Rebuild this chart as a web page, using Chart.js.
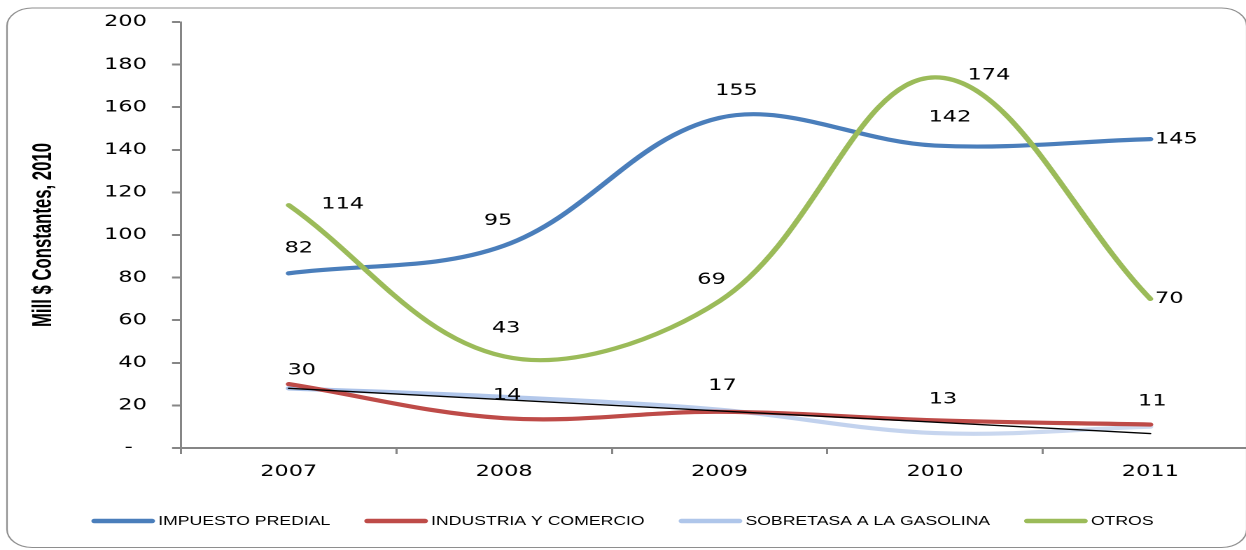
<!DOCTYPE html>
<html><head><meta charset="utf-8">
<script src="https://cdn.jsdelivr.net/npm/chart.js@4/dist/chart.umd.min.js"></script>
<style>
html,body{margin:0;padding:0;background:#fff;overflow:hidden;width:1246px;height:550px;}
#wrap{position:absolute;left:0;top:0;width:910px;height:550px;transform:scaleX(1.4);transform-origin:0 0;}
canvas{display:block;}
</style></head><body>
<div id="wrap"><canvas id="c" width="910" height="550"></canvas></div>
<script>
const years = ['2007','2008','2009','2010','2011'];
const impuestoPredial = [82, 95, 155, 142, 145];
const industriaComercio = [30, 14, 17, 13, 11];
const sobretasaGasolina = [28, 24, 18, 7, 10];
const otros = [114, 43, 69, 174, 70];
const yMin = 0, yMax = 200, yStep = 20;
const yTitle = 'Mill $ Constantes, 2010';
const seriesNames = ['IMPUESTO PREDIAL', 'INDUSTRIA Y COMERCIO', 'SOBRETASA A LA GASOLINA', 'OTROS'];

const SX = 1.4; // horizontal stretch of the page
const TICK_FONT = '"DejaVu Sans", Verdana, sans-serif';
const TITLE_FONT = '"Liberation Sans", Arial, sans-serif';
const LEGEND_FONT = '"Liberation Sans", Arial, sans-serif';

// linear trendline of the gasoline series (least squares)
function linearTrend(vals) {
  const n = vals.length; let sx = 0, sy = 0, sxy = 0, sxx = 0;
  vals.forEach((v, i) => { sx += i; sy += v; sxy += i * v; sxx += i * i; });
  const b = (n * sxy - sx * sy) / (n * sxx - sx * sx);
  const a = (sy - b * sx) / n;
  return vals.map((v, i) => a + b * i);
}

// label offsets (final px, text center relative to point)
const labelOffsets = {
  predial: [[10,-25],[-6,-25],[17,-27],[15,-28],[26,0]],
  industria: [[13,-14],[3,-23],[3,-26],[8,-21],[2,-23]],
  otros: [[54,-1],[2,-28],[-8,-21],[54,-2],[19,0]]
};

function sobretasaColor(ctx) {
  const a = ctx.chart.chartArea;
  if (!a) return '#BCD0EE';
  const g = ctx.chart.ctx.createLinearGradient(a.left, 0, a.right, 0);
  g.addColorStop(0, '#A3BDE8');
  g.addColorStop(1, '#D6E0F2');
  return g;
}

const frame = {
  id: 'frame',
  beforeDraw(chart) {
    const c = chart.ctx;
    c.save();
    c.fillStyle = '#fff';
    c.fillRect(0, 0, chart.width, chart.height);
    c.beginPath();
    c.roundRect(5, 8, 885.5, 539.5, 18);
    c.strokeStyle = '#8E8E8E';
    c.lineWidth = 1.1;
    c.stroke();
    c.restore();
  }
};

// rotated axis title, condensed along its length
const axisTitle = {
  id: 'axisTitle',
  afterDraw(chart) {
    const c = chart.ctx;
    const a = chart.chartArea;
    c.save();
    c.font = 'bold 19px ' + TITLE_FONT;
    const w = c.measureText(yTitle).width;
    const k = 184 / w;
    c.translate(31.5, (a.top + a.bottom) / 2);
    c.rotate(-Math.PI / 2);
    c.scale(k, 1);
    c.fillStyle = '#000';
    c.textAlign = 'center';
    c.textBaseline = 'middle';
    c.fillText(yTitle, 0, 0);
    c.restore();
  }
};

const valueLabels = {
  id: 'valueLabels',
  afterDatasetsDraw(chart) {
    const c = chart.ctx;
    c.save();
    c.font = '16px ' + TICK_FONT;
    c.fillStyle = '#000';
    c.textAlign = 'center';
    c.textBaseline = 'middle';
    chart.data.datasets.forEach((ds, di) => {
      if (!ds.labelKey) return;
      const meta = chart.getDatasetMeta(di);
      const offs = labelOffsets[ds.labelKey];
      meta.data.forEach((pt, i) => {
        const o = offs[i];
        c.fillText(String(ds.data[i]), pt.x + o[0] / SX, pt.y + o[1]);
      });
    });
    c.restore();
  }
};

const customLegend = {
  id: 'customLegend',
  afterDraw(chart) {
    const c = chart.ctx;
    c.save();
    c.font = '12.6px ' + LEGEND_FONT;
    c.fillStyle = '#000';
    c.textBaseline = 'middle';
    c.textAlign = 'left';
    const y = 521;
    let x = 66;
    const items = chart.data.datasets.filter(d => d.legendIndex !== undefined)
      .sort((a, b) => a.legendIndex - b.legendIndex);
    items.forEach((ds) => {
      c.beginPath();
      c.lineCap = 'round';
      c.lineWidth = 4.5;
      c.strokeStyle = ds.legendColor;
      c.moveTo(x + 1.5, y);
      c.lineTo(x + 42.5, y);
      c.stroke();
      x += 47;
      c.fillText(ds.label, x, y + 0.5);
      x += c.measureText(ds.label).width + 25;
    });
    c.restore();
  }
};

const trend = linearTrend(sobretasaGasolina);

new Chart(document.getElementById('c'), {
  type: 'line',
  data: {
    labels: years,
    datasets: [
      { label: 'trend', data: trend, borderColor: '#000', borderWidth: 1.4, tension: 0, order: 0 },
      { label: seriesNames[3], data: otros, borderColor: '#9BBB59', legendColor: '#9BBB59', borderWidth: 4.2, order: 1, labelKey: 'otros', legendIndex: 3 },
      { label: seriesNames[0], data: impuestoPredial, borderColor: '#4A7EBB', legendColor: '#4A7EBB', borderWidth: 4.2, order: 2, labelKey: 'predial', legendIndex: 0 },
      { label: seriesNames[1], data: industriaComercio, borderColor: '#BE4B48', legendColor: '#BE4B48', borderWidth: 4.2, order: 3, labelKey: 'industria', legendIndex: 1 },
      { label: seriesNames[2], data: sobretasaGasolina, borderColor: sobretasaColor, legendColor: '#AFC6EA', borderWidth: 4.2, order: 4, legendIndex: 2 }
    ].map(d => Object.assign({ pointRadius: 0, pointHoverRadius: 0, tension: 0.36, fill: false, borderCapStyle: 'round', borderJoinStyle: 'round' }, d))
  },
  options: {
    responsive: false,
    animation: false,
    devicePixelRatio: 2,
    events: [],
    layout: { padding: { left: 0, right: 11.4, top: 22, bottom: 62 } },
    plugins: { legend: { display: false }, tooltip: { enabled: false } },
    scales: {
      x: {
        offset: true,
        grid: { offset: true, drawOnChartArea: false, drawTicks: true, tickLength: 6, color: '#868686', lineWidth: 1.5 },
        border: { display: true, color: '#868686', width: 2 },
        ticks: { color: '#000', font: { family: TICK_FONT, size: 16 }, padding: 8, maxRotation: 0 },
        afterFit: s => { s.height = 40; s.paddingLeft = 0; s.paddingRight = 0; }
      },
      y: {
        min: yMin, max: yMax,
        grid: { drawOnChartArea: false, drawTicks: true, tickLength: 6.4, color: '#868686', lineWidth: 2 },
        border: { display: true, color: '#868686', width: 1.5 },
        ticks: { stepSize: yStep, color: '#000', font: { family: TICK_FONT, size: 16 }, padding: 18,
          callback: v => v === 0 ? '-  ' : String(v) },
        title: { display: false },
        afterFit: s => { s.width = 129.3; s.paddingTop = 0; s.paddingBottom = 0; }
      }
    }
  },
  plugins: [frame, axisTitle, valueLabels, customLegend]
});
</script>
</body></html>
